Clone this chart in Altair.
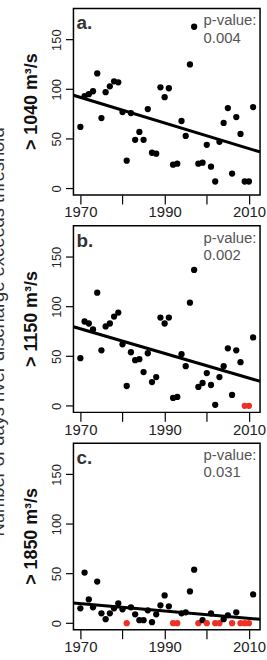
import altair as alt
import pandas as pd

# Days per year on which river discharge exceeded each threshold, 1970-2011
years = list(range(1970, 2012))
thresholds = ["> 1040 m³/s", "> 1150 m³/s", "> 1850 m³/s"]
tags = ["a.", "b.", "c."]
p_values = ["0.004", "0.002", "0.031"]

days_1040 = [62, 93, 95, 98, 116, 71, 97, 103, 108, 107,
             77, 28, 76, 49, 57, 49, 80, 36, 35, 102,
             92, 101, 24, 25, 68, 53, 125, 163, 25, 26,
             44, 22, 7, 47, 66, 81, 15, 72, 55, 7, 7, 82]
days_1150 = [48, 85, 83, 77, 114, 56, 80, 83, 90, 94,
             62, 20, 54, 46, 47, 34, 53, 24, 29, 89,
             83, 89, 8, 9, 52, 40, 104, 137, 19, 23,
             33, 21, 1, 29, 40, 58, 11, 56, 44, 0, 0, 69]
days_1850 = [15, 51, 24, 16, 42, 10, 4, 10, 15, 20,
             14, 0, 16, 9, 3, 3, 13, 1, 9, 18,
             28, 17, 0, 0, 10, 11, 32, 54, 0, 3,
             0, 10, 0, 0, 4, 8, 0, 11, 0, 0, 0, 29]

rows = []
for thr, tag, p, series in zip(thresholds, tags, p_values,
                               [days_1040, days_1150, days_1850]):
    for yr, d in zip(years, series):
        rows.append({"threshold": thr, "tag": tag, "pval": p,
                     "year": yr, "days": d})
df = pd.DataFrame(rows)

FONT = "Liberation Sans"
RED = "#ee3124"
X_DOMAIN = [1968.36, 2012.64]
Y_DOMAIN = [-6.6, 181.5]

x_enc = alt.X(
    "year:Q",
    scale=alt.Scale(domain=X_DOMAIN, nice=False, zero=False),
    axis=alt.Axis(
        values=[1970, 1980, 1990, 2000, 2010], format="d",
        labelExpr="datum.value % 20 == 10 ? datum.label : ''",
        tickSize=9, tickColor="black", tickWidth=1.2,
        labelFont=FONT, labelFontSize=15, labelColor="#222",
        labelPadding=1, labelFlush=False, labelOverlap=False,
        domain=False, grid=False, title=None,
    ),
)
y_enc = alt.Y(
    "days:Q",
    scale=alt.Scale(domain=Y_DOMAIN, nice=False, zero=False),
    axis=alt.Axis(
        values=[0, 50, 100, 150], labelAngle=-90,
        tickSize=8, tickColor="black", tickWidth=1.2,
        labelFont=FONT, labelFontSize=13, labelColor="#222",
        labelPadding=2, labelFlush=False, labelOverlap=False,
        domain=False, grid=False, title=None,
    ),
)

points = alt.Chart().mark_circle(size=40, opacity=1).encode(
    x=x_enc, y=y_enc,
    color=alt.condition("datum.days == 0", alt.value(RED), alt.value("black")),
)

trend = alt.Chart().mark_line(color="black", strokeWidth=3).transform_regression(
    "year", "days", groupby=["threshold"], extent=X_DOMAIN
).encode(x=x_enc, y=y_enc)

tag_text = alt.Chart().transform_aggregate(
    n="count()", groupby=["threshold", "tag"]
).mark_text(
    align="left", baseline="alphabetic", font=FONT, fontSize=19,
    fontWeight="bold", color="#333",
).encode(text="tag:N", x=alt.value(3), y=alt.value(21))

p_head = alt.Chart().transform_aggregate(
    n="count()", groupby=["threshold"]
).mark_text(
    align="left", baseline="alphabetic", font=FONT, fontSize=15, color="#555",
).encode(text=alt.value("p-value:"), x=alt.value(131), y=alt.value(17))

p_num = alt.Chart().transform_aggregate(
    n="count()", groupby=["threshold", "pval"]
).mark_text(
    align="left", baseline="alphabetic", font=FONT, fontSize=15, color="#555",
).encode(text="pval:N", x=alt.value(131), y=alt.value(34.5))

panel = alt.layer(points, trend, tag_text, p_head, p_num, data=df).properties(
    width=188, height=188
)

chart = panel.facet(
    row=alt.Row(
        "threshold:N", sort=thresholds,
        header=alt.Header(
            labelAngle=-90, labelOrient="left", labelFont=FONT,
            labelFontSize=18, labelFontWeight="bold", labelColor="#111",
            labelPadding=1,
            title="Number of days river discharge exceeds threshold",
            titleOrient="left", titleFont=FONT, titleFontSize=18.5,
            titleFontWeight="normal", titleColor="#333", titlePadding=4,
        ),
    ),
    spacing=31,
).resolve_axis(x="independent").properties(
    bounds="flush",
    padding={"left": -11, "top": 5, "right": 0, "bottom": 0},
).configure_view(stroke="black", strokeWidth=1.5)

chart.save("out.html", embed_options={"renderer": "svg", "actions": False})
